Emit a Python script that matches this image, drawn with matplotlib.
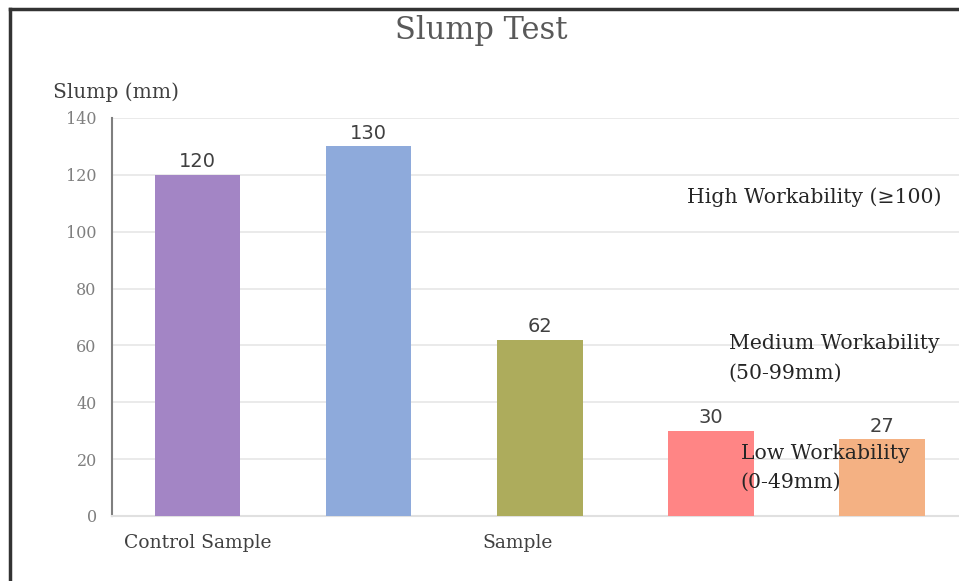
import matplotlib.pyplot as plt
from matplotlib.lines import Line2D

samples = ["Control", "S1", "S2", "S3", "S4"]
slump = [120, 130, 62, 30, 27]
colors = ["#A385C5", "#8EAADB", "#ADAC5C", "#FF8585", "#F4B183"]
tick_pos = [0, 1.87]
tick_labels = ["Control Sample", "Sample"]
yticks = [0, 20, 40, 60, 80, 100, 120, 140]

serif = "DejaVu Serif"

fig = plt.figure(figsize=(9.59, 5.81), dpi=100)
ax = fig.add_axes([112 / 959, 65 / 581, 855.5 / 959, 398 / 581])

x = list(range(len(slump)))
bars = ax.bar(x, slump, width=0.5, color=colors, zorder=3)
for b, v in zip(bars, slump):
	ax.text(b.get_x() + b.get_width() / 2, v + 1.2, str(v), ha='center', va='bottom',
		fontsize=14, color='#404040', family='DejaVu Sans', zorder=4)

ax.set_xlim(-0.5, 4.5)
ax.set_ylim(0, 140)
ax.set_yticks(yticks)
ax.set_yticklabels([str(t) for t in yticks], family=serif, fontsize=11.5, color='#7F7F7F')
ax.set_xticks(tick_pos)
ax.set_xticklabels(tick_labels, family=serif, fontsize=13.5, color='#404040')
ax.tick_params(axis='both', length=0)
ax.tick_params(axis='y', pad=11)
ax.tick_params(axis='x', pad=13)
ax.grid(axis='y', color='#E6E6E6', lw=1.2, zorder=0)
for s in ['top', 'right']:
	ax.spines[s].set_visible(False)
ax.spines['left'].set_color('#7F7F7F')
ax.spines['left'].set_linewidth(1.5)
ax.spines['bottom'].set_color('#E0E0E0')
ax.spines['bottom'].set_linewidth(1.5)

fig.text(481 / 959, 1 - 30 / 581, "Slump Test", ha='center', va='center',
	family=serif, fontsize=22, color='#595959')
fig.text(53 / 959, 1 - 92 / 581, "Slump (mm)", ha='left', va='center',
	family=serif, fontsize=14.5, color='#404040')

ax.text(2.86, 112.2, "High Workability (\u2265100)", family=serif, fontsize=14.7,
	color='#262626', va='center', ha='left', zorder=5)
ax.text(3.105, 55.4, "Medium Workability\n(50-99mm)", family=serif, fontsize=14.7,
	color='#262626', va='center', ha='left', linespacing=1.75, zorder=5)
ax.text(3.175, 16.9, "Low Workability\n(0-49mm)", family=serif, fontsize=14.7,
	color='#262626', va='center', ha='left', linespacing=1.65, zorder=5)

fig.add_artist(Line2D([10 / 959, 10 / 959], [0, 1 - 9 / 581], color='#333333', lw=2.5))
fig.add_artist(Line2D([10 / 959, 1], [1 - 9 / 581, 1 - 9 / 581], color='#333333', lw=2.5))

fig.savefig("out.png", dpi=100)
